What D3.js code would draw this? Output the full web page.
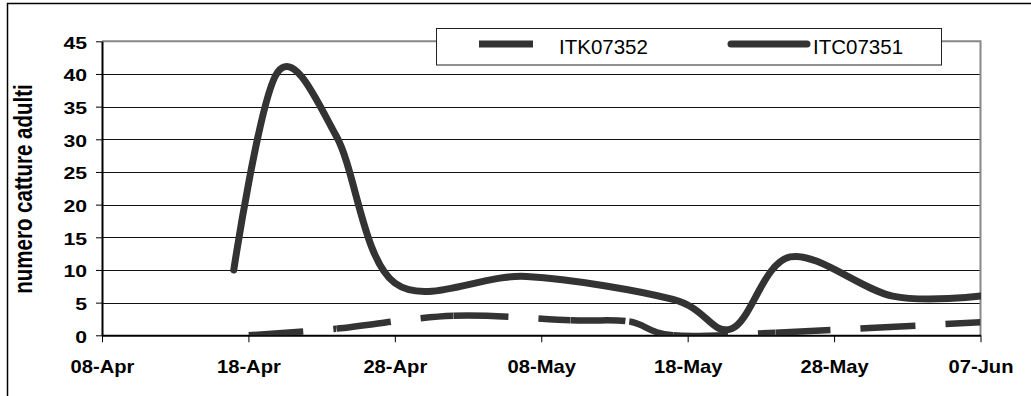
<!DOCTYPE html>
<html><head><meta charset="utf-8">
<script src="https://cdn.jsdelivr.net/npm/d3@7"></script>
<style>body{margin:0;background:#fff} svg{display:block}</style>
</head><body><svg id="c" width="1031" height="396"></svg>
<script>
// ---- data ----
const itcDates  = ["2007-04-17","2007-04-20","2007-04-24","2007-04-28","2007-05-07","2007-05-17","2007-05-21","2007-05-25","2007-06-01","2007-06-07"];
const itcValues = [10, 40.3, 30.5, 8, 9, 5.5, 1, 12, 6, 6];
const itkDates  = ["2007-04-18","2007-04-24","2007-05-02","2007-05-10","2007-05-14","2007-05-17","2007-05-24","2007-06-07"];
const itkValues = [0, 1, 3, 2.3, 2.1, 0, 0.4, 2];
const xTickDates = ["2007-04-08","2007-04-18","2007-04-28","2007-05-08","2007-05-18","2007-05-28","2007-06-07"];
const yTicks = [0,5,10,15,20,25,30,35,40,45];
const seriesNames = ["ITK07352","ITC07351"];
const yTitle = "numero catture adulti";

// ---- setup ----
const parse = d3.utcParse("%Y-%m-%d");
const fmt = d3.utcFormat("%d-%b");
const svg = d3.select("#c");
const defs = svg.append("defs");
const m = {left:102, right:980.5, top:41.3, bottom:335.3};
const x = d3.scaleUtc().domain([parse(xTickDates[0]), parse(xTickDates[xTickDates.length-1])]).range([m.left, m.right]);
const y = d3.scaleLinear().domain([0,45]).range([m.bottom, m.top]);
const ink = "#333";
const font = "'Liberation Sans', Arial, sans-serif";

// outer frame
svg.append("rect").attr("x",7.5).attr("y",3.5).attr("width",1100).attr("height",600)
  .attr("fill","none").attr("stroke","#000").attr("stroke-width",1.5);

// gridlines
svg.append("g").selectAll("line").data(yTicks.filter(v=>v>0 && v<45)).join("line")
  .attr("x1",m.left).attr("x2",m.right).attr("y1",d=>Math.round(y(d))+0.5).attr("y2",d=>Math.round(y(d))+0.5)
  .attr("stroke","#111").attr("stroke-width",1);

// plot border top/right (grey)
svg.append("path").attr("d",`M${m.left},${y(45)}H${m.right}V${m.bottom}`)
  .attr("fill","none").attr("stroke","#888").attr("stroke-width",2);

// y axis
const yAxis = svg.append("g").attr("transform",`translate(${m.left},0)`)
  .call(d3.axisLeft(y).tickValues(yTicks).tickSize(6).tickSizeOuter(0).tickFormat(d3.format("d")));
yAxis.select(".domain").attr("stroke","#000").attr("stroke-width",2);
yAxis.selectAll(".tick line").attr("stroke","#000");
yAxis.selectAll("text").attr("x",0).attr("dy","0.36em")
  .attr("transform","translate(-15,1) scale(1.3,1)")
  .attr("font-family",font).attr("font-weight","bold").attr("font-size",16.3).attr("fill","#000");

// x axis
const xAxis = svg.append("g").attr("transform",`translate(0,${m.bottom})`)
  .call(d3.axisBottom(x).tickValues(xTickDates.map(parse)).tickSize(7).tickSizeOuter(0).tickFormat(fmt));
xAxis.select(".domain").attr("stroke","#000").attr("stroke-width",2);
xAxis.selectAll(".tick line").attr("stroke","#000");
xAxis.selectAll("text").attr("y",0).attr("dy",null)
  .attr("transform","translate(0,38) scale(1.12,1)")
  .attr("font-family",font).attr("font-weight","bold").attr("font-size",18).attr("fill","#000");

// y title
svg.append("text").attr("transform","translate(32,189) scale(1.3,1) rotate(-90)")
  .attr("text-anchor","middle").attr("font-family",font).attr("font-weight","bold")
  .attr("font-size",20.5).attr("fill","#000").text(yTitle);

// ---- lines ----
defs.append("clipPath").attr("id","plotclip").append("rect")
  .attr("x",m.left).attr("y",m.top-10).attr("width",m.right-m.left+0.5).attr("height",m.bottom-m.top+10);
const line = d3.line().x(d=>x(d.date)).y(d=>y(d.v)).curve(d3.curveCardinal.tension(0));

const itk = itkDates.map((d,i)=>({date:parse(d), v:itkValues[i]}));
const itc = itcDates.map((d,i)=>({date:parse(d), v:itcValues[i]}));

// dashed series: the dash pattern restarts at each data point
const dStr = line(itk);
const tmp = svg.append("path").attr("d",dStr).attr("fill","none").attr("stroke","none");
const node = tmp.node();
const total = node.getTotalLength();
function lenAtX(px){
  let lo=0, hi=total;
  for(let k=0;k<40;k++){ const mid=(lo+hi)/2; if(node.getPointAtLength(mid).x<px) lo=mid; else hi=mid; }
  return (lo+hi)/2;
}
const dashG = svg.append("g");
itk.forEach((p,i)=>{
  if(i===itk.length-1) return;
  const x0=x(p.date), x1=x(itk[i+1].date);
  const id="seg"+i;
  defs.append("clipPath").attr("id",id).append("rect")
    .attr("x",x0).attr("y",m.top).attr("width",Math.min(x1,m.right)-x0).attr("height",m.bottom-m.top);
  dashG.append("path").attr("d",dStr).attr("fill","none").attr("stroke",ink).attr("stroke-width",6.5)
    .attr("stroke-dasharray","55,30").attr("stroke-dashoffset",-lenAtX(x0))
    .attr("clip-path",`url(#${id})`);
});

svg.append("path").datum(itc).attr("d",line).attr("fill","none").attr("stroke",ink)
  .attr("stroke-width",7).attr("stroke-linecap","round").attr("stroke-linejoin","round")
  .attr("clip-path","url(#plotclip)");

// ---- legend ----
const lg = svg.append("g");
lg.append("rect").attr("x",436.5).attr("y",28.5).attr("width",505).attr("height",36.5)
  .attr("fill","#fff").attr("stroke","#222").attr("stroke-width",1);
lg.append("line").attr("x1",479).attr("x2",533).attr("y1",44).attr("y2",44)
  .attr("stroke",ink).attr("stroke-width",7);
lg.append("text").attr("x",559).attr("y",54).attr("font-family",font).attr("font-size",20.5).attr("fill","#000").text(seriesNames[0]);
lg.append("line").attr("x1",731).attr("x2",807).attr("y1",44).attr("y2",44)
  .attr("stroke",ink).attr("stroke-width",7).attr("stroke-linecap","round");
lg.append("text").attr("x",813).attr("y",54).attr("font-family",font).attr("font-size",20.5).attr("fill","#000").text(seriesNames[1]);
</script></body></html>
